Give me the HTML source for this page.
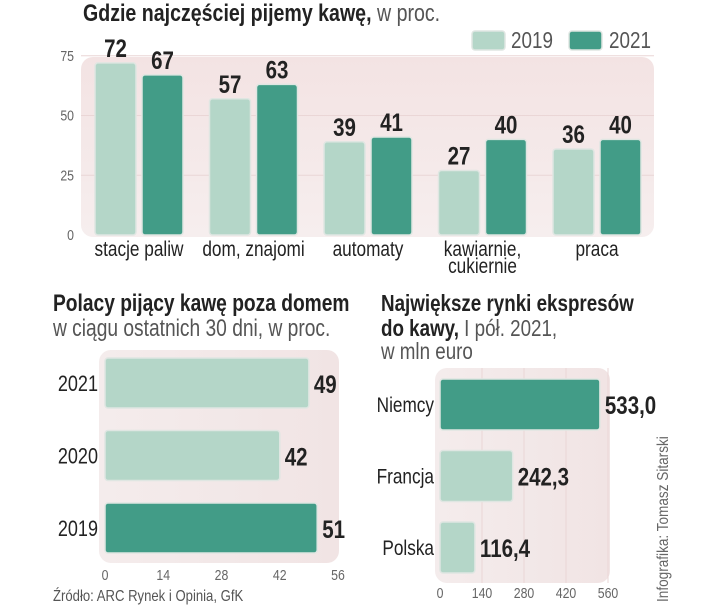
<!DOCTYPE html>
<html><head><meta charset="utf-8"><style>
html,body{margin:0;padding:0;background:#fff;}
svg{display:block;font-family:"Liberation Sans",sans-serif;}
</style></head><body>
<svg id="c" width="720" height="605" viewBox="0 0 720 605" xmlns="http://www.w3.org/2000/svg">
<defs>
<linearGradient id="pg" x1="0" y1="0" x2="0" y2="1"><stop offset="0" stop-color="#f3e3e3"/><stop offset="1" stop-color="#f6eeee"/></linearGradient>
<linearGradient id="pg2" x1="0" y1="0" x2="1" y2="0"><stop offset="0" stop-color="#f4ecec"/><stop offset="1" stop-color="#f1e4e4"/></linearGradient>
</defs>
</svg>
<script>
// Chart 1: where we drink coffee
const cats1 = ["stacje paliw","dom, znajomi","automaty","kawiarnie,|cukiernie","praca"];
const s2019 = [72,57,39,27,36];
const s2021 = [67,63,41,40,40];
const ticks1 = [0,25,50,75];
// Chart 2: Poles drinking coffee outside home
const years2 = ["2021","2020","2019"];
const vals2 = [49,42,51];
const ticks2 = [0,14,28,42,56];
// Chart 3: espresso machine markets
const countries3 = ["Niemcy","Francja","Polska"];
const vals3 = [533.0,242.3,116.4];
const labels3 = ["533,0","242,3","116,4"];
const ticks3 = [0,140,280,420,560];

const NS="http://www.w3.org/2000/svg";
const svg=document.getElementById('c');
const LIGHT="#b4d6c8", DARK="#429c87";
function el(tag,attrs,parent){const e=document.createElementNS(NS,tag);for(const k in attrs)e.setAttribute(k,attrs[k]);(parent||svg).appendChild(e);return e;}
function txt(x,y,s,size,opts){opts=opts||{};
  const t=el('text',{x:0,y:0,'font-size':size,fill:opts.fill||'#222','font-weight':opts.bold?'bold':'normal','text-anchor':opts.anchor||'start',transform:`translate(${x},${y}) scale(${opts.sx||0.82},1)`});
  t.textContent=s;return t;}

// ---- Chart 1 ----
const y1=v=>235-v*2.39;
const gx=i=>139+i*114.5;
const p1=el('rect',{x:81,y:57,width:573,height:180,rx:12,fill:'url(#pg)'});


ticks1.forEach(t=>{
  if(t>0){const g=el('line',{x1:81,x2:654,y1:y1(t),y2:y1(t),stroke:'#ead6d6','stroke-width':1});
  
  }
  const l=txt(74,y1(t)+5,String(t),15,{fill:'#666',anchor:'end'});
  
  
});
cats1.forEach((c,i)=>{
  [[s2019[i],LIGHT,-44,'2019'],[s2021[i],DARK,3,'2021']].forEach(([v,col,dx,yr])=>{
    const x=gx(i)+dx;
    const b=el('rect',{x:x,y:y1(v),width:41,height:235-y1(v),rx:3,fill:col,stroke:'#dfe6e2','stroke-width':1.5});
    
    
    const vl=txt(x+20.5,y1(v)-6,String(v),25,{bold:true,anchor:'middle'});
    
    
  });
  c.split('|').forEach((line,k)=>{
    const cl=txt(gx(i),256+k*17,line,21,{anchor:'middle'});
    
    
  });
});

// ---- Chart 2 ----
const x2=v=>105+v*(233/56);
const p2=el('rect',{x:99,y:350,width:240,height:213,rx:12,fill:'url(#pg2)'});


ticks2.forEach(t=>{
  const l=txt(x2(t),580,String(t),15,{fill:'#666',anchor:'middle'});
  
  
});
years2.forEach((yr,i)=>{
  const top=358+i*72.5;
  const b=el('rect',{x:105,y:top,width:x2(vals2[i])-105,height:50,rx:3,fill:i===2?DARK:LIGHT,stroke:'#dfe6e2','stroke-width':1.5});
  
  
  const yl=txt(98,top+33,yr,22,{anchor:'end'});
  
  
  const vl=txt(x2(vals2[i])+5,top+35,String(vals2[i]),25,{bold:true});
  
  
});

// ---- Chart 3 ----
const x3=v=>440+v*0.3;
const p3=el('rect',{x:435,y:368,width:175,height:215,rx:12,fill:'url(#pg2)'});


ticks3.forEach(t=>{
  if(t>0){const g=el('line',{x1:x3(t),x2:x3(t),y1:368,y2:583,stroke:'#ead6d6','stroke-width':1});
  
  }
  const l=txt(x3(t),598,String(t),15,{fill:'#666',anchor:'middle'});
  
  
});
countries3.forEach((c,i)=>{
  const top=379+i*71.5;
  const b=el('rect',{x:440,y:top,width:x3(vals3[i])-440,height:51,rx:3,fill:i===0?DARK:LIGHT,stroke:'#dfe6e2','stroke-width':1.5});
  
  
  const cl=txt(434,top+33,c,21,{anchor:'end'});
  
  
  const vl=txt(x3(vals3[i])+5,top+35,labels3[i],25,{bold:true});
  
  
});
</script>
<svg width="720" height="605" style="position:absolute;left:0;top:0" xmlns="http://www.w3.org/2000/svg">
<g font-family="Liberation Sans, sans-serif">
<text x="0" y="0" transform="translate(83,21) scale(0.8,1)" font-size="24.5" fill="#222"><tspan font-weight="bold">Gdzie najczęściej pijemy kawę,</tspan> <tspan fill="#555">w proc.</tspan></text>
<rect x="472" y="31" width="33" height="19" rx="3" fill="#b4d6c8" stroke="#dfe6e2" stroke-width="1.5"/>
<text x="0" y="0" transform="translate(511,48) scale(0.82,1)" font-size="23" fill="#555">2019</text>
<rect x="569" y="31" width="33" height="19" rx="3" fill="#429c87" stroke="#dfe6e2" stroke-width="1.5"/>
<text x="0" y="0" transform="translate(609,48) scale(0.82,1)" font-size="23" fill="#555">2021</text>
<text x="0" y="0" transform="translate(53,311) scale(0.8,1)" font-size="24" font-weight="bold" fill="#222">Polacy pijący kawę poza domem</text>
<text x="0" y="0" transform="translate(53,336) scale(0.8,1)" font-size="24" fill="#555">w ciągu ostatnich 30 dni, w proc.</text>
<text x="0" y="0" transform="translate(381,311) scale(0.8,1)" font-size="23.5" font-weight="bold" fill="#222">Największe rynki ekspresów</text>
<text x="0" y="0" transform="translate(381,336) scale(0.8,1)" font-size="23.5" fill="#555"><tspan font-weight="bold" fill="#222">do kawy,</tspan> I pół. 2021,</text>
<text x="0" y="0" transform="translate(381,359) scale(0.8,1)" font-size="23.5" fill="#555">w mln euro</text>
<text x="0" y="0" transform="translate(53,601) scale(0.82,1)" font-size="16" fill="#555">Źródło: ARC Rynek i Opinia, GfK</text>
<text x="0" y="0" transform="translate(668,602) rotate(-90) scale(0.85,1)" font-size="16" fill="#666">Infografika: Tomasz Sitarski</text>
</g>
</svg>
</body></html>
